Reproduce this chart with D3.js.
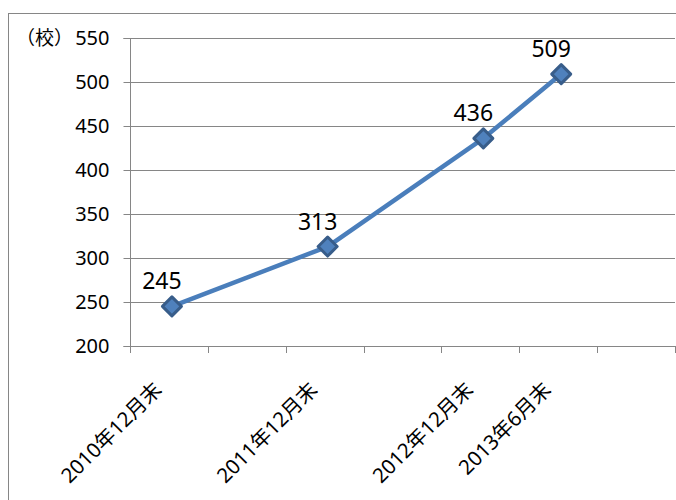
<!DOCTYPE html>
<html><head><meta charset="utf-8">
<script src="https://cdn.jsdelivr.net/npm/d3@7"></script>
<style>body{margin:0;background:#fff}svg{display:block}</style>
</head><body><svg id="c" width="676" height="500"></svg>
<script>
const slots = ["2010-12","2011-06","2011-12","2012-06","2012-12","2013-06","2013-12"];
const categories = ["2010-12","2011-12","2012-12","2013-06"];
const labels = ["2010年12月末","2011年12月末","2012年12月末","2013年6月末"];
const values = [245,313,436,509];
const yTicks = [200,250,300,350,400,450,500,550];
const unit = "（校）";

const svg = d3.select("#c");
const font = "'Noto Sans','Noto Sans CJK JP',sans-serif";
const L = 130, R = 675, T = 38, B = 346;

svg.append("rect").attr("x",8.5).attr("y",13.5).attr("width",700).attr("height",600)
  .attr("fill","none").attr("stroke","#868686").attr("stroke-width",1);

const x = d3.scaleBand().domain(slots).range([L,R]).padding(0);
const y = d3.scaleLinear().domain([200,550]).range([B,T]);

svg.append("g").selectAll("line").data(yTicks.slice(1)).join("line")
  .attr("x1",L).attr("x2",R).attr("y1",d=>Math.round(y(d))+0.5).attr("y2",d=>Math.round(y(d))+0.5)
  .attr("stroke","#868686").attr("stroke-width",1);

const ya = svg.append("g").attr("transform",`translate(${L+0.5},0)`)
  .call(d3.axisLeft(y).tickValues(yTicks).tickSize(7).tickPadding(14));
ya.select(".domain").attr("stroke","#868686").attr("d",`M-7,${B+0.5}H0V${T+0.5}H-7`);
ya.selectAll(".tick line").attr("stroke","#868686");
ya.selectAll(".tick").attr("transform",d=>`translate(0,${Math.round(y(d))+0.5})`);
ya.selectAll("text").attr("font-family",font).attr("font-size",20).attr("fill","#000");

const xTickPos = slots.map(s=>x(s)).concat([R]);
svg.append("line").attr("x1",L).attr("x2",R).attr("y1",B+0.5).attr("y2",B+0.5).attr("stroke","#868686");
svg.append("g").selectAll("line").data(xTickPos).join("line")
  .attr("x1",d=>Math.round(d)+0.5).attr("x2",d=>Math.round(d)+0.5)
  .attr("y1",B).attr("y2",B+7).attr("stroke","#868686");

svg.append("text").attr("x",16).attr("y",Math.round(y(550))+7).text(unit)
  .attr("font-family",font).attr("font-size",19).attr("fill","#000");

const cx = c => x(c) + x.bandwidth()/2 + 3;

svg.append("g").selectAll("text").data(categories).join("text")
  .attr("transform",c=>`translate(${cx(c)-14},386) rotate(-45)`)
  .attr("text-anchor","end").attr("dy","0.35em")
  .attr("font-family",font).attr("font-size",20.5).attr("fill","#000")
  .text((c,i)=>labels[i]);

const line = d3.line().x((d,i)=>cx(categories[i])).y(d=>y(d));
svg.append("path").datum(values).attr("d",line).attr("fill","none")
  .attr("stroke","#4A7EBB").attr("stroke-width",4.5).attr("stroke-linejoin","round");

const sym = d3.symbol().type(d3.symbolDiamond2).size(230);
svg.append("g").selectAll("path").data(values).join("path")
  .attr("d",sym).attr("transform",(d,i)=>`translate(${cx(categories[i])},${y(d)})`)
  .attr("fill","#4F81BD").attr("stroke","#385D8A").attr("stroke-width",3).attr("stroke-linejoin","round");

svg.append("g").selectAll("text").data(values).join("text")
  .attr("x",(d,i)=>cx(categories[i])-10).attr("y",d=>y(d)-17)
  .attr("text-anchor","middle")
  .attr("font-family",font).attr("font-size",23).attr("fill","#000").text(d=>d);
</script></body></html>
